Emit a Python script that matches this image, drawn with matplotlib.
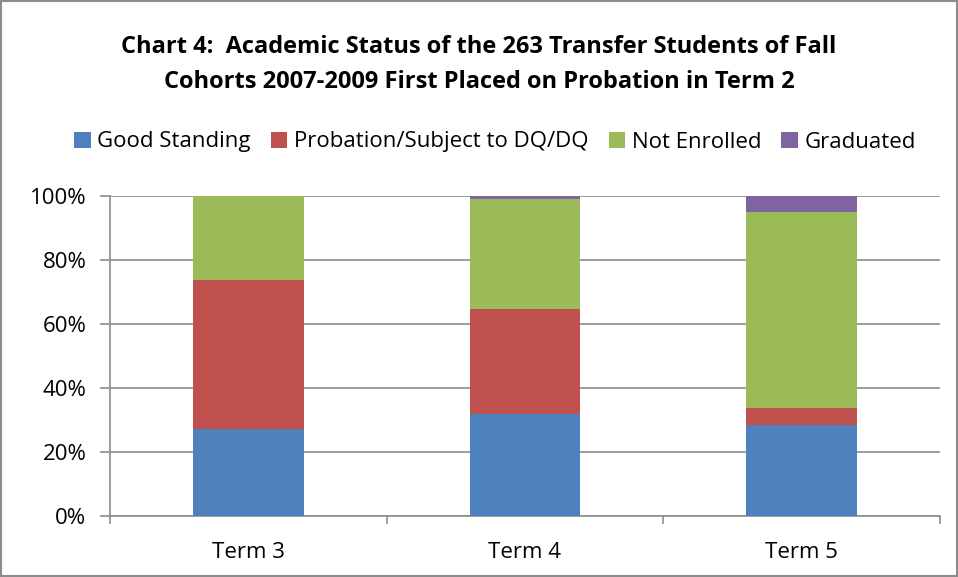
import matplotlib
matplotlib.use("Agg")
import matplotlib.pyplot as plt
from matplotlib.ticker import FuncFormatter

plt.rcParams['font.family'] = ['Open Sans', 'DejaVu Sans']

terms = ["Term 3", "Term 4", "Term 5"]
good_standing = [27.1, 31.8, 28.4]
probation = [46.8, 33.0, 5.2]
not_enrolled = [26.1, 34.2, 61.4]
graduated = [0.0, 1.0, 5.0]

series = [
    ("Good Standing", good_standing, "#4F81BD"),
    ("Probation/Subject to DQ/DQ", probation, "#C0504D"),
    ("Not Enrolled", not_enrolled, "#9BBB59"),
    ("Graduated", graduated, "#8064A2"),
]

fig = plt.figure(figsize=(9.58, 5.77), dpi=100)
ax = fig.add_axes([110 / 958, 1 - 516 / 577, 830 / 958, 320 / 577])

x = range(len(terms))
bottom = [0.0] * len(terms)
for name, vals, color in series:
    ax.bar(x, vals, width=0.4, bottom=bottom, color=color, label=name, zorder=3)
    bottom = [b + v for b, v in zip(bottom, vals)]

ax.set_xlim(-0.5, 2.5)
ax.set_ylim(0, 100)
ax.set_yticks(range(0, 101, 20))
ax.yaxis.set_major_formatter(FuncFormatter(lambda v, p: f"{int(v)}%"))
ax.grid(axis="y", color="#8c8c8c", linewidth=1.2, zorder=0)
ax.set_xticks([0, 1, 2])
ax.set_xticklabels(terms)
ax.set_xticks([-0.5, 0.5, 1.5, 2.5], minor=True)
ax.tick_params(axis="x", which="major", length=0, labelsize=16, pad=19)
ax.tick_params(axis="x", which="minor", length=6, color="#8c8c8c", width=1.2)
ax.tick_params(axis="y", length=7, color="#8c8c8c", width=1.2, labelsize=16, pad=10)
for s in ["top", "right"]:
    ax.spines[s].set_visible(False)
for s in ["left", "bottom"]:
    ax.spines[s].set_color("#8c8c8c")
    ax.spines[s].set_linewidth(1.2)

fig.text(0.5, 1 - 47 / 577, "Chart 4:  Academic Status of the 263 Transfer Students of Fall",
         ha="center", va="center", fontsize=17, fontweight="bold")
fig.text(0.5, 1 - 82 / 577, "Cohorts 2007-2009 First Placed on Probation in Term 2",
         ha="center", va="center", fontsize=17, fontweight="bold")

fig.legend(loc="center", bbox_to_anchor=(0.5 + 16 / 958, 1 - 142 / 577), ncol=4, frameon=False,
           fontsize=16, handlelength=0.75, handleheight=0.75, handletextpad=0.3,
           columnspacing=0.9)

fig.patches.append(plt.Rectangle((0.001, 0.001), 0.998, 0.998, transform=fig.transFigure,
                                 fill=False, edgecolor="#8c8c8c", linewidth=1.5))

fig.savefig("out.png", dpi=100)
